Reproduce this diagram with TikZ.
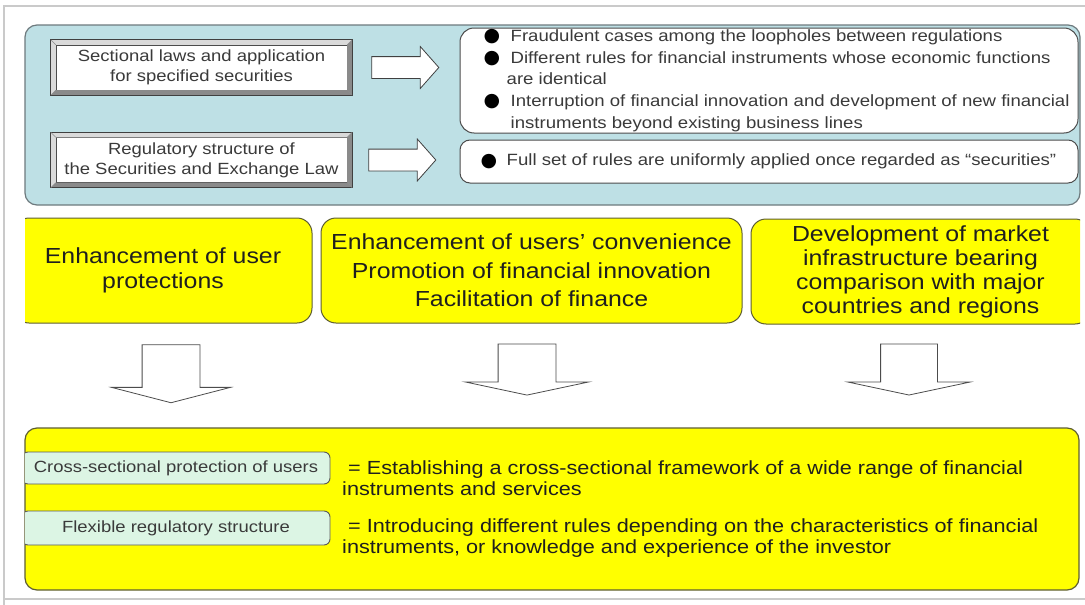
\documentclass[tikz,border=0pt]{standalone}
\usepackage{fontspec}
\setmainfont{Liberation Sans}[FakeStretch=1.14]
\newfontfamily\dotfont{DejaVu Sans}
\usetikzlibrary{shapes.arrows,calc}

\definecolor{panelblue}{HTML}{BEE0E5}
\definecolor{paneledge}{HTML}{6E7A7E}
\definecolor{bevlight}{HTML}{DADADA}
\definecolor{bevdark}{HTML}{8A8A8A}
\definecolor{inkgray}{HTML}{3A3A3A}
\definecolor{hiyellow}{HTML}{FFFF00}
\definecolor{yedge}{HTML}{5E5E33}
\definecolor{mint}{HTML}{DCF5E4}
\definecolor{frameline}{HTML}{CACACA}

\newcommand\fsz[2]{\fontsize{#1}{#2}\selectfont}
\newcommand\bul[1]{\makebox[#1][l]{\raisebox{-0.3pt}{\color{black}\dotfont\fontsize{19}{19}\selectfont ●}}}

% raised frame around a named rectangular node
\newcommand\bevelframe[1]{%
  \fill[bevlight] ($(#1.north west)+(-5,-5)$) -- ($(#1.north east)+(5,-5)$) -- (#1.north east) -- (#1.north west) -- cycle;
  \fill[bevlight] ($(#1.north west)+(-5,-5)$) -- ($(#1.south west)+(-5,5)$) -- (#1.south west) -- (#1.north west) -- cycle;
  \fill[bevdark] ($(#1.north east)+(5,-5)$) -- ($(#1.south east)+(5,5)$) -- (#1.south east) -- (#1.north east) -- cycle;
  \fill[bevdark] ($(#1.south west)+(-5,5)$) -- ($(#1.south east)+(5,5)$) -- (#1.south east) -- (#1.south west) -- cycle;
  \draw[black!75, line width=0.9] ($(#1.north west)+(-5,-5)$) rectangle ($(#1.south east)+(5,5)$);
  \draw[black!45, line width=0.5] ($(#1.north west)+(-5,-5)$) -- (#1.north west)
        ($(#1.north east)+(5,-5)$) -- (#1.north east)
        ($(#1.south west)+(-5,5)$) -- (#1.south west)
        ($(#1.south east)+(5,5)$) -- (#1.south east);
}

\begin{document}
\begin{tikzpicture}[x=1pt, y=-1pt,
  bevel/.style={draw=black!70, fill=white, minimum width=291, minimum height=45,
    inner sep=0, align=center, text=inkgray, font=\fsz{16.2}{20}},
  rarrow/.style={single arrow, draw=black!75, fill=white, line width=0.8,
    minimum height=67, inner xsep=0, inner ysep=10.5, single arrow head extend=10,
    single arrow tip angle=97},
  tbox/.style={draw=black!70, fill=white, line width=1, minimum width=618, inner sep=0},
  bullets/.style={align=left, inner sep=0, text=inkgray, font=\fsz{16.3}{21.7}},
  ybox/.style={draw=yedge, fill=hiyellow, line width=1, rounded corners=15,
    minimum height=105, inner sep=0, align=center, text=black!88, font=\fsz{21.8}{25}},
  darrow/.style={single arrow, draw=black!70, fill=white, line width=0.8,
    rotate=-90, inner xsep=0},
  gbox/.style={draw=black!65, fill=mint, line width=0.9, rounded corners=6,
    minimum width=308, inner sep=0, text=inkgray, font=\fsz{16.2}{19}},
  deftext/.style={anchor=west, align=left, inner sep=0, text=black!88, font=\fsz{19}{20.5}}
]
\useasboundingbox (0,0) rectangle (1085,605);
\fill[white] (0,0) rectangle (1085,605);
\draw[frameline, line width=1.5] (4,612) -- (4,6) -- (1092,6);
\draw[frameline, line width=1.5] (4,599) -- (1092,599);

% current regulation panel
\draw[paneledge, fill=panelblue, line width=1.2, rounded corners=12] (25,25) rectangle (1080,205);

\node[bevel] (secA) at (201.5,67.5) {Sectional laws and application\\for specified securities};
\node[bevel] (secB) at (201.5,160) {Regulatory structure of\\the Securities and Exchange Law};
\bevelframe{secA}
\bevelframe{secB}

\node[rarrow] (arrA) at (400.5,67.5) {};
\node[rarrow] (arrB) at (397.5,160) {};

\node[tbox, minimum height=105, rounded corners=14] (bulA) at (769,80.5) {};
\node[tbox, minimum height=43, rounded corners=10] (bulB) at (769,161.5) {};

\node[bullets, anchor=west] (bulAtxt) at ($(bulA.west)+(24,0)$) {%
  \bul{27pt}Fraudulent cases among the loopholes between regulations\\
  \bul{27pt}Different rules for financial instruments whose economic functions\\
  \hspace*{23pt}are identical\\
  \bul{27pt}Interruption of financial innovation and development of new financial\\
  \hspace*{27pt}instruments beyond existing business lines};
\node[bullets, anchor=west] (bulBtxt) at ($(bulB.west)+(21,0)$) {%
  \bul{26pt}Full set of rules are uniformly applied once regarded as “securities”};

% objectives
\begin{scope}
  \clip (25,0) rectangle (1080,605);
  \node[ybox, minimum width=298] (goalA) at (163,270.5) {Enhancement of user\\protections};
  \node[ybox, minimum width=421, font=\fsz{21.8}{28.5}] (goalB) at (531.5,270.5)
    {Enhancement of users' convenience\\Promotion of financial innovation\\Facilitation of finance};
  \node[ybox, minimum width=339, font=\fsz{21.8}{24}] (goalC) at (920.5,271.5)
    {Development of market\\infrastructure bearing\\comparison with major\\countries and regions};
\end{scope}

\node[darrow, minimum height=58, inner ysep=28.5, single arrow head extend=30.5,
      single arrow tip angle=151] (downA) at (171,370) {};
\node[darrow, minimum height=51, inner ysep=28.5, single arrow head extend=33,
      single arrow tip angle=156] (downB) at (527,366.5) {};
\node[darrow, minimum height=51, inner ysep=28, single arrow head extend=32.5,
      single arrow tip angle=156] (downC) at (909,366.5) {};

% resulting framework
\draw[yedge, fill=hiyellow, line width=1.2, rounded corners=12] (25,428) rectangle (1079,590);
\begin{scope}
  \clip (25,0) rectangle (1080,605);
  \node[gbox, minimum height=32] (measA) at (176,468) {Cross-sectional protection of users};
  \node[gbox, minimum height=34] (measB) at (176,528) {Flexible regulatory structure};
\end{scope}

\node[deftext] (defA) at (342,478)
  {\hspace*{6pt}= Establishing a cross-sectional framework of a wide range of financial\\instruments and services};
\node[deftext] (defB) at (342,538)
  {\hspace*{6pt}= Introducing different rules depending on the characteristics of financial\\instruments, or knowledge and experience of the investor};
\end{tikzpicture}
\end{document}
